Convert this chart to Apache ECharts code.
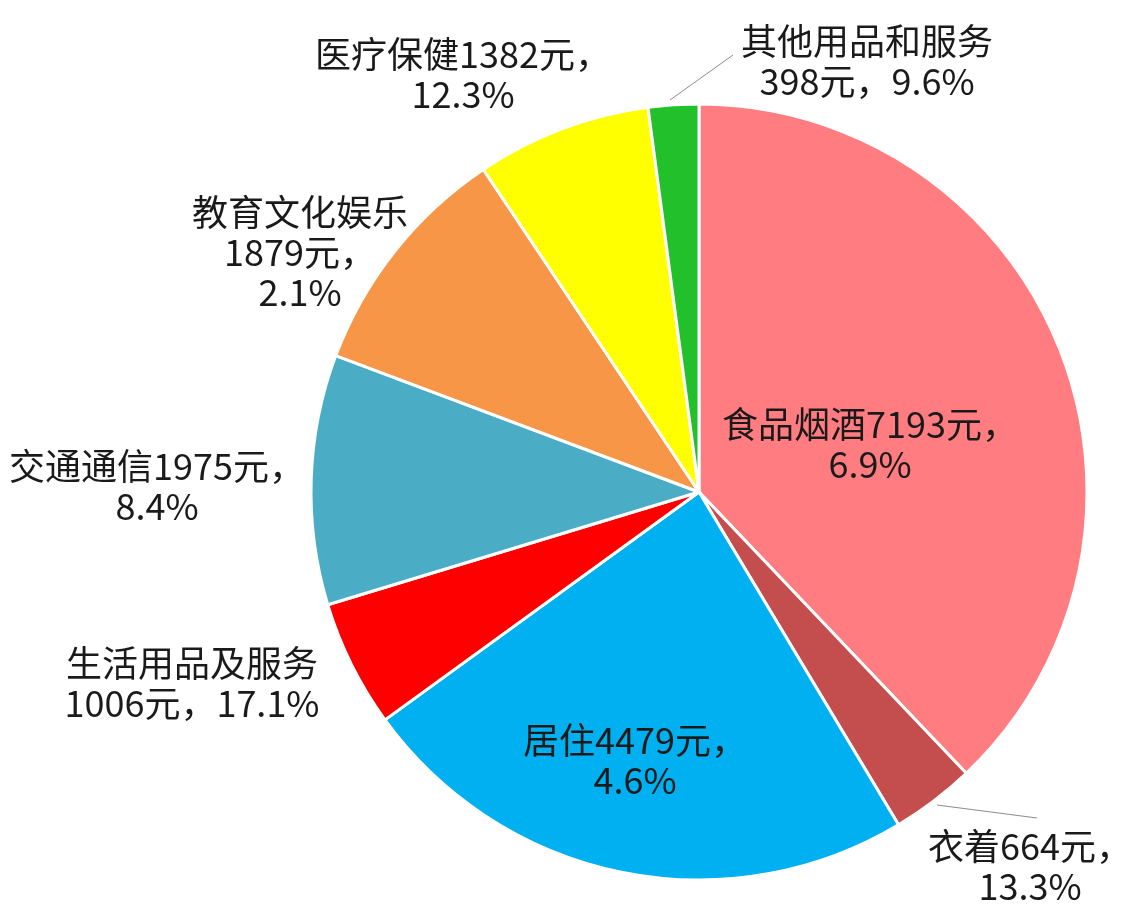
<!DOCTYPE html>
<html>
<head>
<meta charset="utf-8">
<script src="https://cdn.jsdelivr.net/npm/echarts@6/dist/echarts.min.js"></script>
<style>
html,body{margin:0;padding:0;background:#fff;}
#chart{width:1123px;height:909px;}
</style>
</head>
<body>
<div id="chart"></div>
<script>
// Data
var categories = ['食品烟酒', '衣着', '居住', '生活用品及服务', '交通通信', '教育文化娱乐', '医疗保健', '其他用品和服务'];
var amounts = [7193, 664, 4479, 1006, 1975, 1879, 1382, 398];
var growth = ['6.9%', '13.3%', '4.6%', '17.1%', '8.4%', '2.1%', '12.3%', '9.6%'];

// Presentation
var colors = ['#FF7C80', '#C44E4E', '#00B0F0', '#FF0000', '#4BACC6', '#F79646', '#FFFF00', '#22C02A'];
// line-break pattern per label: 'a' = name+value, growth ; 'b' = name, value+growth ; 'c' = name, value, growth
var breakPattern = ['a', 'a', 'a', 'b', 'a', 'c', 'a', 'b'];
var labelPos = [[870, 444], [1030, 866], [635, 760], [192, 683], [157, 486], [300, 252], [463, 74], [867, 61]];
var linePts = {
  1: [[937, 805], [1037, 818]],
  7: [[670, 100], [733, 55]]
};

function labelText(i) {
  var n = categories[i], v = amounts[i] + '元，', g = growth[i];
  if (breakPattern[i] === 'a') return n + v + '\n' + g;
  if (breakPattern[i] === 'b') return n + '\n' + v + g;
  return n + '\n' + v + '\n' + g;
}

var data = categories.map(function (c, i) {
  return {
    name: c,
    value: amounts[i],
    itemStyle: { color: colors[i] },
    labelLine: { show: !!linePts[i] }
  };
});

var chart = echarts.init(document.getElementById('chart'), null, { renderer: 'canvas' });
chart.setOption({
  backgroundColor: '#ffffff',
  animation: false,
  series: [{
    type: 'pie',
    center: [699, 492],
    radius: [0, 388],
    startAngle: 90,
    clockwise: true,
    avoidLabelOverlap: false,
    data: data,
    itemStyle: { borderColor: '#ffffff', borderWidth: 3 },
    label: {
      show: true,
      position: 'outside',
      overflow: 'none',
      formatter: function (p) { return labelText(p.dataIndex); },
      fontFamily: '"Noto Sans CJK SC", "Noto Sans", sans-serif',
      fontSize: 36,
      lineHeight: 40,
      color: '#1a1a1a',
      align: 'center'
    },
    labelLine: {
      show: false,
      lineStyle: { color: '#8c8c8c', width: 1 }
    },
    labelLayout: function (params) {
      var i = params.dataIndex;
      var res = {
        x: labelPos[i][0],
        y: labelPos[i][1],
        align: 'center',
        verticalAlign: 'middle',
        hideOverlap: false
      };
      if (linePts[i]) res.labelLinePoints = [linePts[i][0], linePts[i][1], linePts[i][1]];
      return res;
    }
  }]
});
</script>
</body>
</html>
